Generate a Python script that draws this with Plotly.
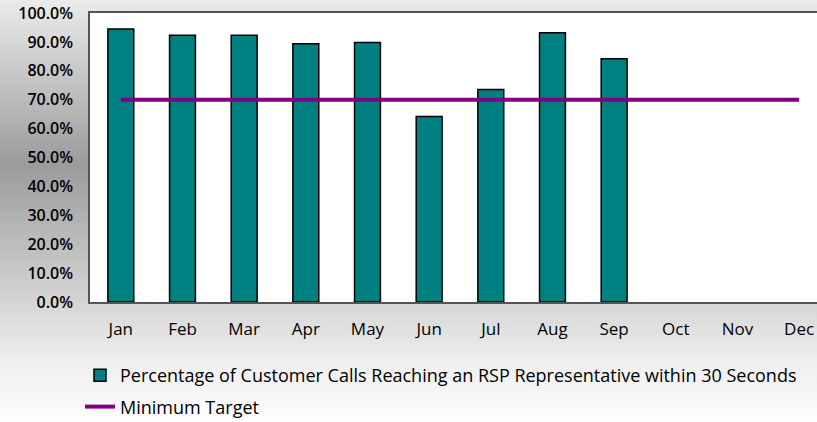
import plotly.graph_objects as go
import urllib.parse

months = ["Jan", "Feb", "Mar", "Apr", "May", "Jun", "Jul", "Aug", "Sep", "Oct", "Nov", "Dec"]
pct_calls = [94.5, 92.3, 92.3, 89.4, 89.8, 64.2, 73.5, 93.2, 84.2, None, None, None]
min_target = [70.0] * 12
y_ticks = [0, 10, 20, 30, 40, 50, 60, 70, 80, 90, 100]
y_tick_labels = [f"{v:.1f}%" for v in y_ticks]

bar_name = "Percentage of Customer Calls Reaching an RSP Representative within 30 Seconds"
line_name = "Minimum Target"

W, H = 817, 422
ML, MR, MT, MB = 90, 0, 13, 120
pw, ph = W - ML - MR, H - MT - MB

svg = (
    f'<svg xmlns="http://www.w3.org/2000/svg" width="{W}" height="{H}" viewBox="0 0 {W} {H}" preserveAspectRatio="none">'
    '<defs><linearGradient id="g" x1="0" y1="0" x2="0" y2="1">'
    '<stop offset="0" stop-color="#ebebeb"/>'
    '<stop offset="0.39" stop-color="#9b9b9b"/>'
    '<stop offset="0.72" stop-color="#d6d6d6"/>'
    '<stop offset="0.86" stop-color="#efefef"/>'
    '<stop offset="1" stop-color="#fdfdfd"/>'
    '</linearGradient></defs>'
    f'<rect x="0" y="0" width="{W}" height="{H}" fill="url(#g)"/>'
    '</svg>'
)
svg_uri = "data:image/svg+xml;charset=utf-8," + urllib.parse.quote(svg)

font_family = "'Open Sans', Lato, sans-serif"

fig = go.Figure()
fig.add_trace(go.Bar(
    x=months, y=pct_calls, name=bar_name,
    marker=dict(color="#008080", line=dict(color="#000000", width=1.5)),
    legendgroup="a",
))
fig.add_trace(go.Scatter(
    x=months, y=min_target, name=line_name, mode="lines",
    line=dict(color="#800080", width=4),
    legendgroup="b",
))

fig.update_layout(
    width=W, height=H,
    margin=dict(l=ML, r=MR, t=MT, b=MB, autoexpand=False),
    paper_bgcolor="#ffffff",
    plot_bgcolor="#ffffff",
    bargap=0.58,
    font=dict(family=font_family, color="#000000", size=16),
    showlegend=True,
    legend=dict(
        orientation="v", x=-10 / pw, xanchor="left", y=(302 - 357) / ph, yanchor="top",
        yref="paper", bgcolor="rgba(0,0,0,0)", font=dict(size=18, family=font_family),
        tracegroupgap=5, traceorder="grouped",
    ),
    images=[dict(
        source=svg_uri, xref="paper", yref="paper",
        x=-ML / pw, y=1 + MT / ph, sizex=W / pw, sizey=H / ph,
        xanchor="left", yanchor="top", sizing="stretch", layer="below",
    )],
    shapes=[dict(
        type="rect", xref="paper", yref="paper", x0=0, x1=1, y0=0, y1=1,
        fillcolor="#ffffff", line=dict(width=0), layer="below",
    )],
)
fig.update_xaxes(
    type="category", range=[-0.5, 11.29],
    showline=True, linecolor="#555555", linewidth=1.5, mirror=True,
    ticks="outside", ticklen=11, tickcolor="rgba(0,0,0,0)",
    showgrid=False, tickfont=dict(size=17, family=font_family),
)
fig.update_yaxes(
    range=[0, 100], tickvals=y_ticks, ticktext=y_tick_labels,
    showline=True, linecolor="#555555", linewidth=1.5,
    ticks="outside", ticklen=12, tickcolor="rgba(0,0,0,0)",
    showgrid=False, zeroline=False,
    tickfont=dict(size=16, family=font_family, weight=600),
)

fig.write_html(
    "out.html",
    config={"displayModeBar": False},
    post_script="document.body.style.margin='0';document.body.style.padding='0';document.body.style.overflow='hidden';",
)
